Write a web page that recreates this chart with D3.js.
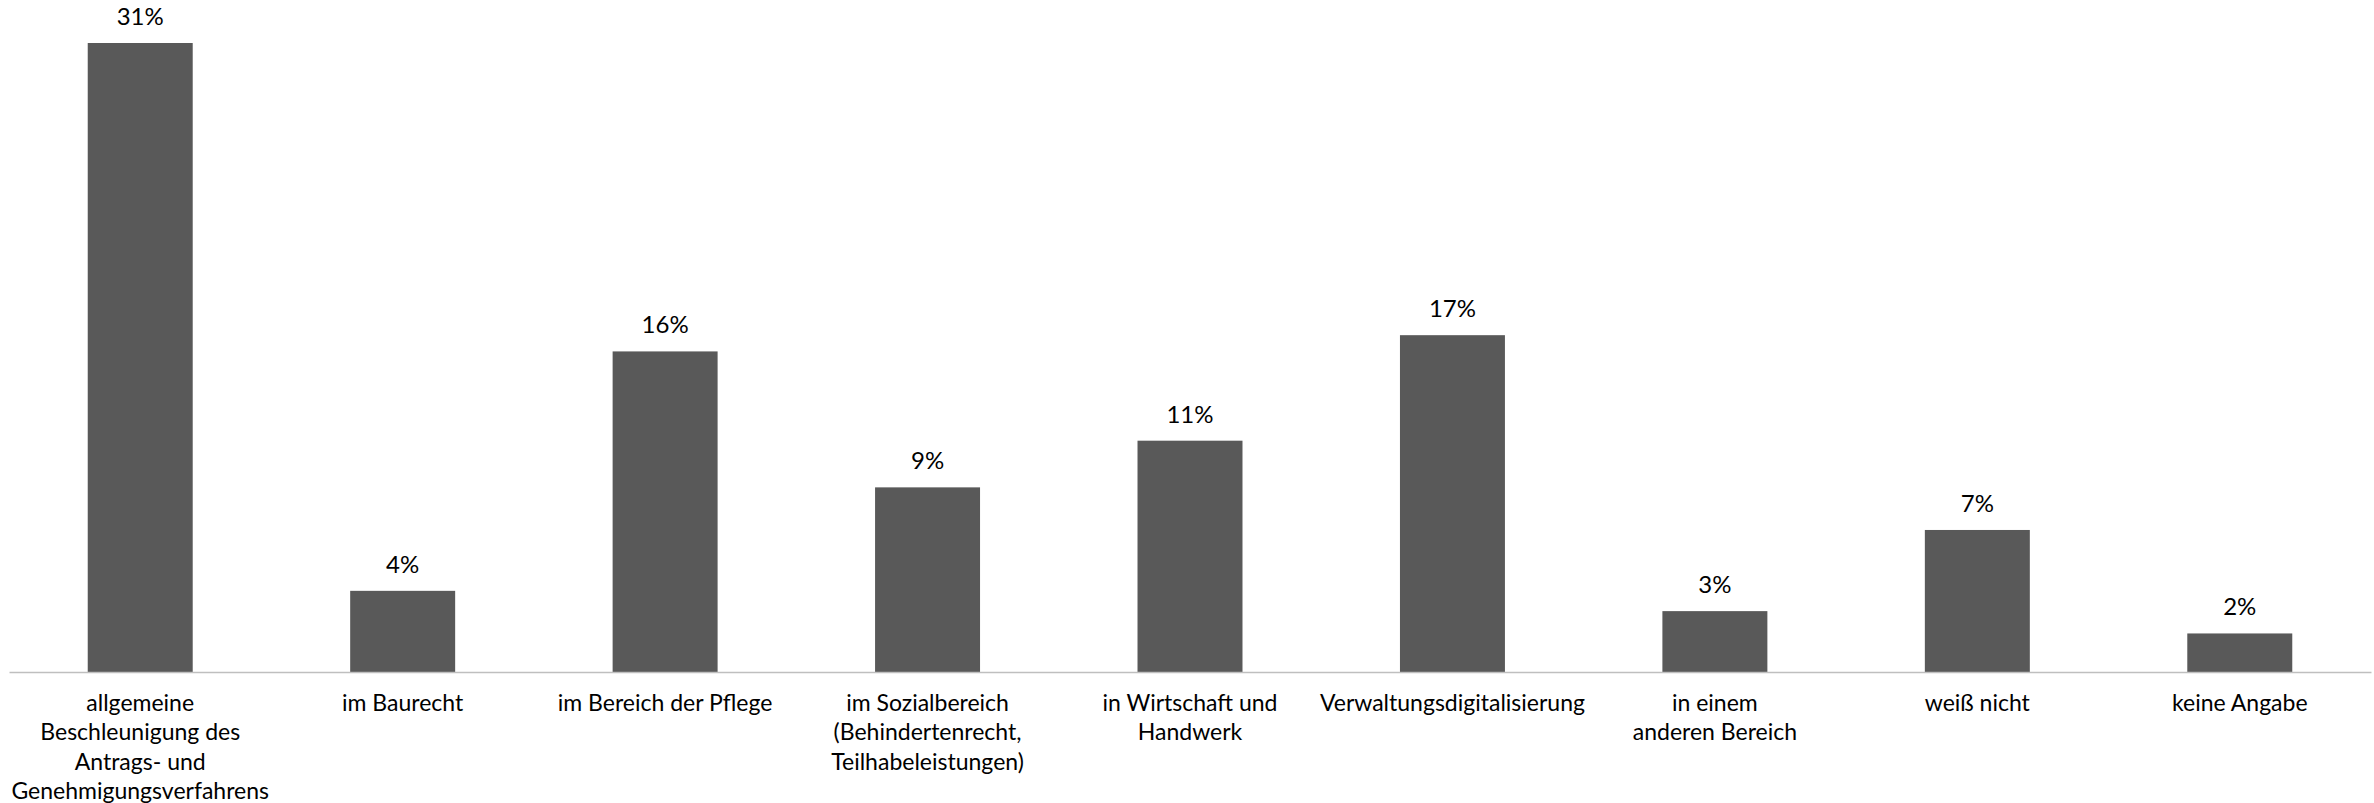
<!DOCTYPE html>
<html>
<head>
<meta charset="utf-8">
<script src="https://cdn.jsdelivr.net/npm/d3@7"></script>
<style>
  body { margin: 0; background: #fff; }
  text { font-family: Lato, "Open Sans", sans-serif; fill: #000; }
</style>
</head>
<body>
<div class="canvas"></div>
<script>
// data
const categories = [
  ["allgemeine", "Beschleunigung des", "Antrags- und", "Genehmigungsverfahrens"],
  ["im Baurecht"],
  ["im Bereich der Pflege"],
  ["im Sozialbereich", "(Behindertenrecht,", "Teilhabeleistungen)"],
  ["in Wirtschaft und", "Handwerk"],
  ["Verwaltungsdigitalisierung"],
  ["in einem", "anderen Bereich"],
  ["weiß nicht"],
  ["keine Angabe"]
];
const values = [31, 4, 15.8, 9.1, 11.4, 16.6, 3.0, 7.0, 1.9];
const valueLabels = ["31%", "4%", "16%", "9%", "11%", "17%", "3%", "7%", "2%"];

const width = 2374;
const height = 803;
const margin = { top: 43, right: 3, bottom: 131, left: 9 };
const graphHeight = height - margin.top - margin.bottom;

const svg = d3
  .select(".canvas")
  .append("svg")
  .attr("width", width)
  .attr("height", height);

const idx = d3.range(values.length);

// scales
const x = d3
  .scaleBand()
  .domain(idx)
  .range([margin.left, width - margin.right])
  .paddingInner(0.6)
  .paddingOuter(0.3);

const y = d3
  .scaleLinear()
  .domain([0, d3.max(values)])
  .range([margin.top + graphHeight, margin.top]);

// bars
svg
  .append("g")
  .selectAll("rect")
  .data(idx)
  .enter()
  .append("rect")
  .attr("x", (i) => x(i))
  .attr("y", (i) => y(values[i]))
  .attr("width", x.bandwidth())
  .attr("height", (i) => y(0) - y(values[i]))
  .attr("fill", "#595959");

// value labels
svg
  .append("g")
  .selectAll("text")
  .data(idx)
  .enter()
  .append("text")
  .attr("x", (i) => x(i) + x.bandwidth() / 2)
  .attr("y", (i) => y(values[i]) - 18)
  .attr("text-anchor", "middle")
  .style("font-size", "24px")
  .text((i) => valueLabels[i]);

// x axis: baseline only, with wrapped category labels
const xAxis = d3.axisBottom(x).tickSize(0).tickFormat("");
const xAxisGroup = svg
  .append("g")
  .attr("class", "x-axis")
  .attr("transform", `translate(0, ${y(0)})`)
  .call(xAxis);

xAxisGroup
  .select(".domain")
  .attr("stroke", "#bfbfbf")
  .attr("stroke-width", 1.5);

const catLabels = svg
  .append("g")
  .selectAll("text")
  .data(idx)
  .enter()
  .append("text")
  .attr("text-anchor", "middle")
  .style("font-size", "23px");

catLabels
  .selectAll("tspan")
  .data((i) => categories[i].map((line) => ({ i, line })))
  .enter()
  .append("tspan")
  .attr("x", (d) => x(d.i) + x.bandwidth() / 2)
  .attr("y", (d, j) => y(0) + 39 + j * 29.3)
  .text((d) => d.line);
</script>
</body>
</html>
